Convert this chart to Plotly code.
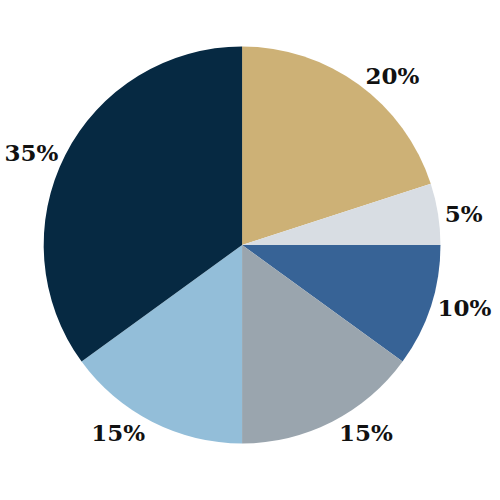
import plotly.graph_objects as go

labels = ["A", "B", "C", "D", "E", "F"]
values = [20, 5, 10, 15, 15, 35]
colors = ["#CDB176", "#D8DDE3", "#376396", "#9AA5AE", "#93BED9", "#062942"]

fig = go.Figure(go.Pie(
    labels=labels,
    values=values,
    sort=False,
    direction="clockwise",
    rotation=0,
    marker=dict(colors=colors, line=dict(width=0)),
    textinfo="percent",
    texttemplate="%{percent:.0%}",
    textposition="outside",
    textfont=dict(family="DejaVu Serif", size=23, color="#111111", weight="bold"),
    domain=dict(x=[0.08, 0.88], y=[0.11, 0.91]),
    showlegend=False,
    hoverinfo="none",
))
fig.update_layout(
    width=500, height=500,
    margin=dict(l=0, r=0, t=0, b=0),
    paper_bgcolor="white",
    plot_bgcolor="white",
)
fig.write_html("out.html", config={"displayModeBar": False},
               post_script="document.body.style.margin='0';")
